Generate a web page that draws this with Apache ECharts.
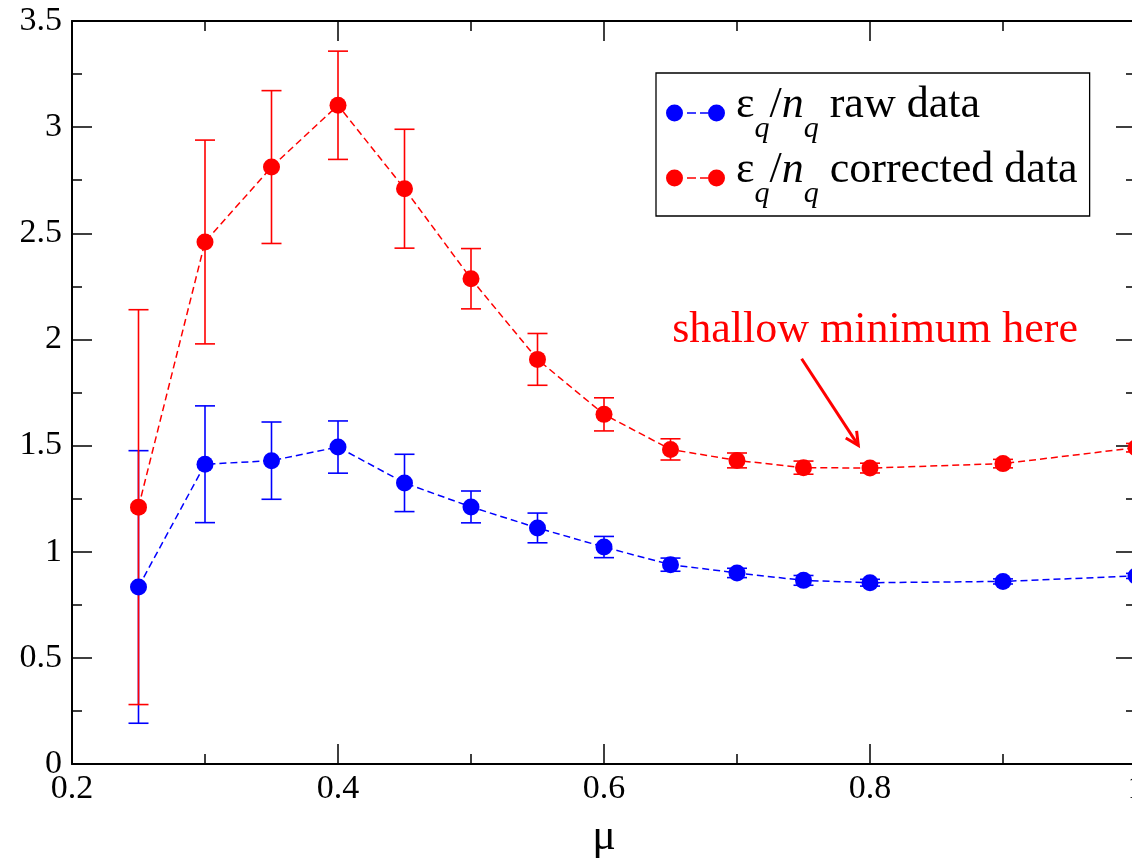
<!DOCTYPE html>
<html><head><meta charset="utf-8">
<script src="https://cdn.jsdelivr.net/npm/echarts@6/dist/echarts.min.js"></script>
<style>html,body{margin:0;padding:0;background:#fff}#c{width:1132px;height:865px}</style>
</head><body><div id="c"></div><script>
// ---- data ----
const muValues   = [0.25, 0.3, 0.35, 0.4, 0.45, 0.5, 0.55, 0.6, 0.65, 0.7, 0.75, 0.8, 0.9, 1.0];
const rawValues  = [0.834, 1.412, 1.429, 1.493, 1.324, 1.211, 1.112, 1.022, 0.939, 0.900, 0.865, 0.854, 0.860, 0.886];
const rawErrors  = [0.642, 0.275, 0.182, 0.123, 0.135, 0.075, 0.070, 0.050, 0.031, 0.022, 0.023, 0.016, 0.012, 0.012];
const corrValues = [1.210, 2.459, 2.812, 3.103, 2.710, 2.286, 1.906, 1.647, 1.482, 1.430, 1.396, 1.394, 1.415, 1.490];
const corrErrors = [0.930, 0.480, 0.360, 0.255, 0.280, 0.142, 0.122, 0.078, 0.050, 0.035, 0.031, 0.023, 0.020, 0.020];
const seriesNames = ['raw data', 'corrected data'];
const xRange = [0.2, 1.0], xStep = 0.2;
const yRange = [0, 3.5], yStep = 0.5;
const noteText = 'shallow minimum here';
const noteAt = [0.8038, 2.043];
const arrowFrom = [0.7486, 1.909];
const arrowTo = [0.7912, 1.501];

const FONT = 'Liberation Serif';
const BLUE = '#0000ff', RED = '#ff0000';

function pairs(values) { return muValues.map((x, i) => [x, values[i]]); }
function errData(values, errors) { return muValues.map((x, i) => [x, values[i] - errors[i], values[i] + errors[i]]); }

function errorSeries(name, color, values, errors) {
  return {
    type: 'custom', name: name, silent: true, z: 2,
    data: errData(values, errors),
    encode: { x: 0, y: [1, 2] },
    renderItem: function (params, api) {
      const lo = api.coord([api.value(0), api.value(1)]);
      const hi = api.coord([api.value(0), api.value(2)]);
      const hw = 10;
      const style = { stroke: color, lineWidth: 1.6 };
      return { type: 'group', children: [
        { type: 'line', shape: { x1: lo[0], y1: lo[1], x2: hi[0], y2: hi[1] }, style: style },
        { type: 'line', shape: { x1: lo[0] - hw, y1: lo[1], x2: lo[0] + hw, y2: lo[1] }, style: style },
        { type: 'line', shape: { x1: hi[0] - hw, y1: hi[1], x2: hi[0] + hw, y2: hi[1] }, style: style }
      ]};
    }
  };
}

function lineSeries(name, color, values) {
  return {
    type: 'line', name: name, z: 3,
    data: pairs(values),
    symbol: 'circle', symbolSize: 17,
    itemStyle: { color: color },
    lineStyle: { color: color, width: 1.5, type: [7, 4] }
  };
}

function axisCommon(isX, pos, showLabel) {
  const r = isX ? xRange : yRange, step = isX ? xStep : yStep;
  return {
    type: 'value', position: pos, min: r[0], max: r[1], interval: step,
    axisLine: { show: true, onZero: false, lineStyle: { color: '#000', width: 2 } },
    axisTick: { show: true, inside: true, length: 20, lineStyle: { color: '#000', width: 1.5 } },
    minorTick: { show: true, splitNumber: 2, length: 10, lineStyle: { color: '#000', width: 1.5 } },
    splitLine: { show: false }, minorSplitLine: { show: false },
    axisLabel: { show: showLabel, fontFamily: FONT, fontSize: 34, color: '#000', margin: isX ? 8 : 10 }
  };
}

const legendIcon = 'path://M0,8.5A8.5,8.5,0,1,1,17,8.5A8.5,8.5,0,1,1,0,8.5Z' +
  'M42,8.5A8.5,8.5,0,1,1,59,8.5A8.5,8.5,0,1,1,42,8.5Z' +
  'M21,7.7L30,7.7L30,9.3L21,9.3Z M34,7.7L42,7.7L42,9.3L34,9.3Z';

const base = { fontFamily: FONT, fontSize: 44, color: '#000', lineHeight: 30, padding: [4, 0, 20, 0] };
const rich = {
  eps: Object.assign({}, base, { padding: [4, 0, 20, 6] }),
  sl: Object.assign({}, base),
  n: Object.assign({}, base, { fontStyle: 'italic' }),
  txt: Object.assign({}, base),
  sub: { fontFamily: FONT, fontSize: 30, fontStyle: 'italic', color: '#000', lineHeight: 10, padding: [33, 0, 0, 0] }
};

const chart = echarts.init(document.getElementById('c'), null, { renderer: 'canvas' });
const xMain = axisCommon(true, 'bottom', true);
xMain.name = 'μ'; xMain.nameLocation = 'middle'; xMain.nameGap = 51;
xMain.nameTextStyle = { fontFamily: FONT, fontSize: 44, color: '#000' };

chart.setOption({
  animation: false,
  backgroundColor: '#fff',
  grid: { left: 72, top: 21, width: 1064, height: 743, containLabel: false, outerBoundsMode: 'none' },
  xAxis: [xMain, Object.assign(axisCommon(true, 'top', false), { gridIndex: 0 })],
  yAxis: [axisCommon(false, 'left', true), Object.assign(axisCommon(false, 'right', false), { gridIndex: 0 })],
  legend: {
    data: seriesNames, orient: 'vertical', left: 656, top: 73,
    padding: [6, 12, 4, 10], itemGap: -3, itemWidth: 59, itemHeight: 17,
    icon: legendIcon, borderColor: '#000', borderWidth: 1.3, selectedMode: false,
    formatter: function (name) { return '{eps|ε}{sub|q}{sl|/}{n|n}{sub|q}{txt| ' + name + '}'; },
    textStyle: { fontFamily: FONT, fontSize: 44, color: '#000', rich: rich }
  },
  series: [
    errorSeries('raw error', BLUE, rawValues, rawErrors),
    errorSeries('corrected error', RED, corrValues, corrErrors),
    lineSeries(seriesNames[0], BLUE, rawValues),
    lineSeries(seriesNames[1], RED, corrValues)
  ]
});

// annotation placed in data coordinates
const p1 = chart.convertToPixel({ gridIndex: 0 }, arrowFrom);
const p2 = chart.convertToPixel({ gridIndex: 0 }, arrowTo);
const pt = chart.convertToPixel({ gridIndex: 0 }, noteAt);
const dx = p2[0] - p1[0], dy = p2[1] - p1[1], len = Math.hypot(dx, dy);
const ux = dx / len, uy = dy / len, nx = -uy, ny = ux;
const L = 13, W = 6.5;
chart.setOption({
  graphic: [
    { type: 'line', shape: { x1: p1[0], y1: p1[1], x2: p2[0], y2: p2[1] }, style: { stroke: RED, lineWidth: 3 }, z: 10 },
    { type: 'polyline', shape: { points: [[p2[0] - ux * L + nx * W, p2[1] - uy * L + ny * W], [p2[0], p2[1]], [p2[0] - ux * L - nx * W, p2[1] - uy * L - ny * W]] },
      style: { stroke: RED, lineWidth: 3, fill: null }, z: 10 },
    { type: 'text', x: pt[0], y: pt[1], style: { text: noteText, fill: RED, font: '44px "Liberation Serif"', textAlign: 'center', textVerticalAlign: 'middle' }, z: 10 }
  ]
});
</script></body></html>
